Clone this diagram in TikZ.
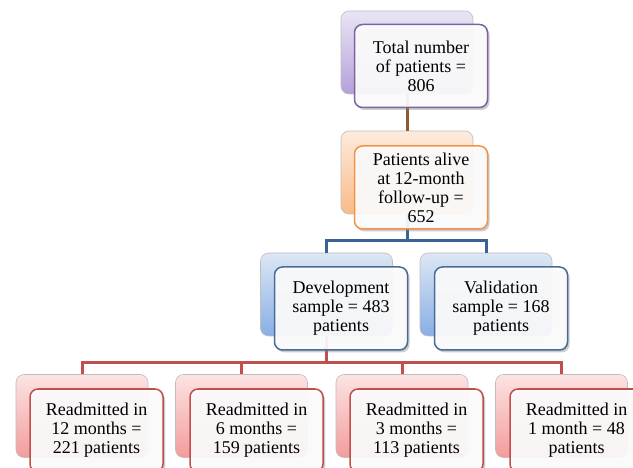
\documentclass[tikz,border=0pt]{standalone}
\usepackage{fontspec}
\setmainfont{Liberation Serif}
\usetikzlibrary{shadows}
\definecolor{purB}{HTML}{7D64A0}
\definecolor{purT}{HTML}{EAE5F4}
\definecolor{purBo}{HTML}{B4A0DA}
\definecolor{oraB}{HTML}{F0934A}
\definecolor{oraT}{HTML}{FDEBDD}
\definecolor{oraBo}{HTML}{F9BB88}
\definecolor{bluB}{HTML}{4A6B96}
\definecolor{bluT}{HTML}{DDE7F4}
\definecolor{bluBo}{HTML}{88AEE6}
\definecolor{redB}{HTML}{C0504D}
\definecolor{redT}{HTML}{FCE3E3}
\definecolor{redBo}{HTML}{F39C9C}
\definecolor{brownL}{HTML}{8E5A2E}
\definecolor{blueL}{HTML}{3B6296}
\definecolor{redL}{HTML}{C0504D}
\tikzset{
  backbox/.style={rounded corners=8pt, draw=black!25, line width=0.6pt,
    minimum width=132pt, minimum height=83pt, inner sep=0pt},
  frontbox/.style={rounded corners=8pt, line width=1.5pt, fill=white, fill opacity=0.9,
    text opacity=1, minimum width=133pt, minimum height=83pt, inner sep=0pt,
    align=center, font=\rmfamily\fontsize{18}{19}\selectfont,
    drop shadow={shadow xshift=2pt, shadow yshift=-2.5pt, opacity=0.4}},
  conn/.style={line width=3pt}
}
\begin{document}
\begin{tikzpicture}[x=1pt,y=-1pt]
\useasboundingbox (0,0) rectangle (633,468);
\clip (0,0) rectangle (633,468);
\fill[white] (0,0) rectangle (633,468);
% back boxes
\node[backbox, top color=purT, bottom color=purBo] (b1) at (407,52.5) {};
\node[backbox, top color=oraT, bottom color=oraBo] (b2) at (407,172.5) {};
\node[backbox, top color=bluT, bottom color=bluBo] (b3) at (326.5,294.5) {};
\node[backbox, top color=bluT, bottom color=bluBo] (b4) at (486,294.5) {};
\node[backbox, top color=redT, bottom color=redBo] (r1) at (82,416) {};
\node[backbox, top color=redT, bottom color=redBo] (r2) at (241.5,416) {};
\node[backbox, top color=redT, bottom color=redBo] (r3) at (402,416) {};
\node[backbox, top color=redT, bottom color=redBo] (r4) at (561.5,416) {};
% connectors
\coordinate (j1) at (407,241);
\coordinate (j2) at (326.5,363);
\draw[conn, brownL] (b1.south) -- (b2.north);
\draw[conn, blueL] (b2.south) -- (j1) -| (b3.north);
\draw[conn, blueL] (j1) -| (b4.north);
\draw[conn, redL] (b3.south) -- (j2) -| (r1.north);
\draw[conn, redL] (j2) -| (r2.north);
\draw[conn, redL] (j2) -| (r3.north);
\draw[conn, redL] (j2) -| (r4.north);
% front boxes
\node[frontbox, draw=purB] (f1) at (421,66) {Total number\\of patients =\\806};
\node[frontbox, draw=oraB] (f2) at (421,187.5) {Patients alive\\at 12-month\\follow-up =\\652};
\node[frontbox, draw=bluB] (f3) at (341,308.5) {Development\\sample = 483\\patients};
\node[frontbox, draw=bluB] (f4) at (501,308.5) {Validation\\sample = 168\\patients};
\node[frontbox, draw=redB] (g1) at (96.5,430.5) {Readmitted in\\12 months =\\221 patients};
\node[frontbox, draw=redB] (g2) at (256.5,430.5) {Readmitted in\\6 months =\\159 patients};
\node[frontbox, draw=redB] (g3) at (416.5,430.5) {Readmitted in\\3 months =\\113 patients};
\node[frontbox, draw=redB] (g4) at (576.5,430.5) {Readmitted in\\1 month = 48\\patients};
\end{tikzpicture}
\end{document}
